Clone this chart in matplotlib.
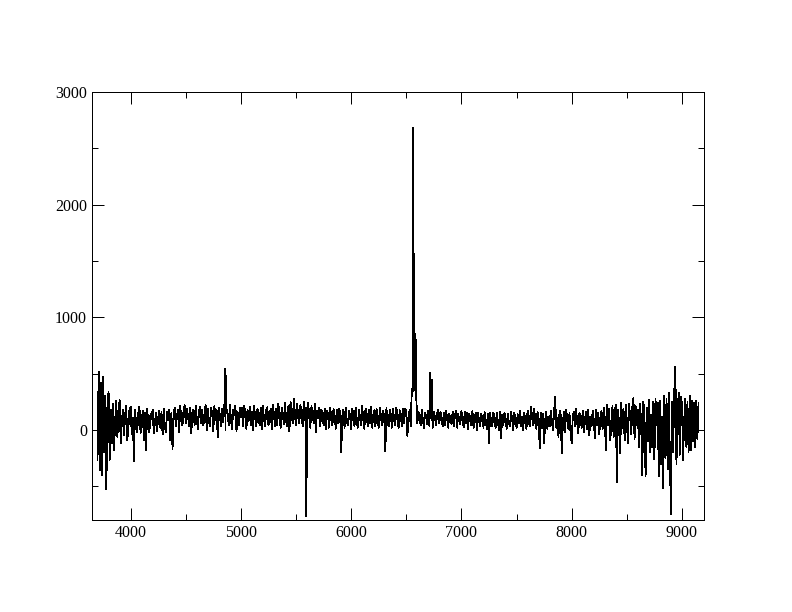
import numpy as np
import matplotlib
matplotlib.use("Agg")
import matplotlib.pyplot as plt
from matplotlib.ticker import MultipleLocator

# flux, one value every 10 A from 3700 A (one row = 100 A)
flux = [
    -266, 518, -355, 420, -400, 473, -200, 300, -526, 250,   # 3700
    340, -266, 180, -120, 230, -178, 90, 260, -60, 120,      # 3800
    266, -120, 60, 180, -50, 130, 210, -90, 20, 190,         # 3900
    205, -40, 110, -280, 180, 40, -20, 150, 207, -30,        # 4000
    70, 170, -90, 150, -180, 190, 60, -20, 140, 100,         # 4100
    180, -30, 60, 150, -10, 110, 170, 20, 160, -40,          # 4200
    190, 40, -20, 160, 90, 180, -90, 150, -170, 130,         # 4300
    200, 30, 120, 180, -20, 210, 90, 40, 170, 220,           # 4400
    60, 190, 130, 30, 200, -30, 150, 180, 40, 215,           # 4500
    100, 10, 170, 205, 60, 180, 40, 130, 220, 0,             # 4600
    190, 80, 30, 200, 140, -10, 210, 90, 175, -65,           # 4700
    200, 120, 30, 190, 70, 210, 0, 180, 140, 40,             # 4800
    220, 90, 10, 180, 130, 215, -15, 160, 40, 200,           # 4900
    110, 195, 30, 210, 150, 10, 180, 80, 205, 40,            # 5000
    160, 0, 210, 100, 30, 185, 140, 40, 200, 10,             # 5100
    215, 90, 30, 180, 200, 40, 120, 190, 10, 220,            # 5200
    130, 30, 185, 45, 230, 110, 20, 200, 150, 50,            # 5300
    240, 80, 30, 210, -15, 250, 130, 60, 275, 140,           # 5400
    40, 230, 110, 60, 220, 150, 30, 250, 90, 200,            # 5500
    50, 240, 110, 20, 210, 150, 60, 230, -20, 170,           # 5600
    100, 200, 30, 180, 120, 40, 190, 10, 170, 140,           # 5700
    20, 200, 90, 40, 185, 130, 10, 175, 60, 190,             # 5800
    150, -200, 120, 180, 20, 200, 90, 40, 170, 130,          # 5900
    10, 190, 140, 30, 200, 80, 20, 180, 110, 40,             # 6000
    210, 90, 10, 190, 150, 30, 180, 60, 205, 20,             # 6100
    130, 175, 30, 185, 90, 20, 200, 120, 40, 170,            # 6200
    110, -192, 195, 60, 30, 180, 130, 20, 190, 80,           # 6300
    40, 200, 100, 20, 175, 140, 30, 190, 60, 185,            # 6400
    170, -53, 110, 180, 30, 360, 340, 350, 400, 300,         # 6500
    60, 160, 110, 40, 180, 90, 20, 150, 120, 50,             # 6600
    170, 30, 140, 90, 20, 160, 110, 40, 150, 180,            # 6700
    60, 160, 100, 30, 150, 40, 170, 110, 20, 140,            # 6800
    90, 50, 160, 30, 120, 170, 20, 145, 80, 50,              # 6900
    165, 100, 25, 160, 60, 150, 10, 140, 110, 40,            # 7000
    165, 20, 120, 150, 0, 155, 80, 30, 140, 110,             # 7100
    20, 160, 90, 10, 145, -120, 150, 60, 30, 155,            # 7200
    100, 20, 150, 80, 0, 160, -71, 130, 40, 150,             # 7300
    110, 10, 145, 70, 30, 160, 100, 0, 150, 90,              # 7400
    20, 140, 60, 170, 30, 120, 0, 150, 90, 10,               # 7500
    170, 80, 30, 207, 120, 40, 190, 60, 10, 160,             # 7600
    100, -163, 150, 20, 140, -120, 90, 160, 10, 120,         # 7700
    30, 170, 80, 0, 150, 296, 20, 110, -60, 170,             # 7800
    130, -205, 60, 160, -20, 180, 90, 10, 150, -40,          # 7900
    -115, 120, 160, 30, 190, 60, -30, 150, 100, 20,          # 8000
    170, -20, 80, 160, 10, 180, -50, 120, 30, 170,           # 8100
    90, -70, 180, 40, 150, -40, 110, 170, 10, 200,           # 8200
    100, -178, 220, 40, 190, -90, 60, 210, -60, 150,         # 8300
    220, -468, 180, 60, -205, 240, 20, 190, -90, 220,        # 8400
    80, -120, 230, 120, -40, 200, 284, -80, 210, 40,         # 8500
    180, -150, 230, 60, -400, 250, 140, -415, 200, -100,     # 8600
    266, -200, 130, -150, 250, -260, 280, 40, 240, -415,     # 8700
    260, -300, 120, -518, 300, -250, 280, -350, 330, -200,   # 8800
    -750, 250, -200, 330, 562, -300, 100, 330, -220, 290,    # 8900
    240, -266, 80, 280, -150, 250, -200, 300, -178, 260,     # 9000
    -100, 240, -150, 260, -80, 240,                          # 9100
]
wave = 3700 + 10 * np.arange(len(flux))

# narrow features between grid points (H-beta, sky line, H-alpha + [NII], [SII])
line_wave = [4858, 4864, 5590, 5593, 6563, 6583, 6588, 6717, 6734]
line_flux = [540, 480, -660, -770, 2680, 850, 700, 505, 445]

w = np.concatenate([wave, line_wave])
f = np.concatenate([np.array(flux, dtype=float), line_flux])
order = np.argsort(w, kind="stable")
w, f = w[order], f[order]

plt.rcParams['font.family'] = ['Liberation Serif', 'DejaVu Serif']

fig = plt.figure(figsize=(11, 8.5), dpi=72)
ax = fig.add_axes([0.1162, 0.1503, 0.7727, 0.6994])
ax.plot(w, f, color='black', linewidth=0.8, antialiased=False)

ax.set_xlim(3650, 9200)
ax.set_ylim(-800, 3000)
ax.xaxis.set_major_locator(MultipleLocator(1000))
ax.xaxis.set_minor_locator(MultipleLocator(500))
ax.yaxis.set_major_locator(MultipleLocator(1000))
ax.yaxis.set_minor_locator(MultipleLocator(500))
ax.tick_params(which='both', direction='in', top=True, right=True,
               width=1, labelsize=16, pad=5)
ax.tick_params(which='major', length=12)
ax.tick_params(which='minor', length=6)
for s in ax.spines.values():
    s.set_linewidth(1)

fig.savefig('out.png', dpi=72)
